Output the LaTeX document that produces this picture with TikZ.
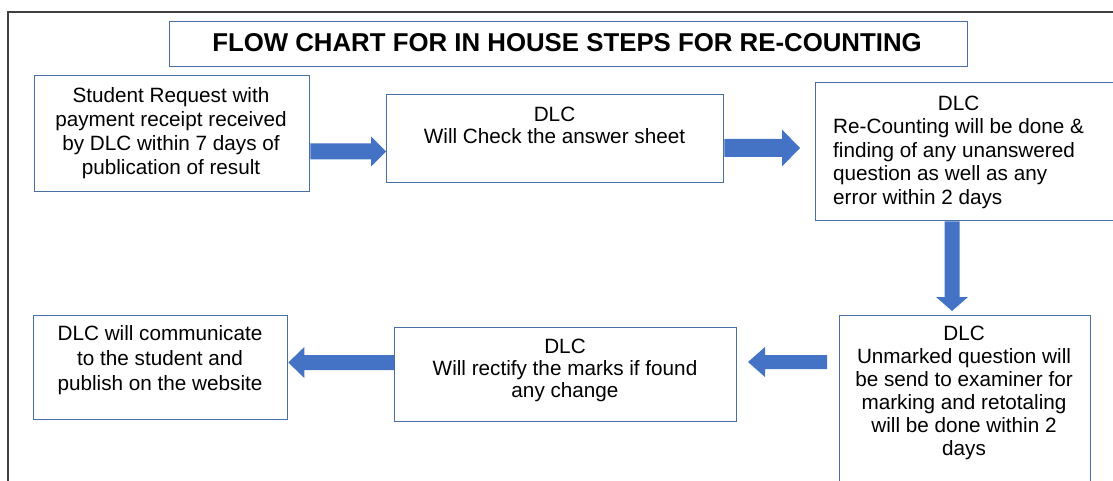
\documentclass[tikz,border=0pt]{standalone}
\usepackage{fontspec}
\setmainfont{Liberation Sans}
\usetikzlibrary{calc}
\definecolor{boxline}{HTML}{4A6FA5}
\definecolor{arrowfill}{HTML}{4472C4}
\definecolor{frameline}{HTML}{404040}
\begin{document}
\begin{tikzpicture}[x=1pt,y=-1pt,
  box/.style={draw=boxline, line width=1.3pt, fill=white, inner sep=0pt, anchor=north west},
  txt/.style={inner sep=0pt, anchor=north, align=center},
  blockarrow/.style={fill=arrowfill, draw=none}]
\useasboundingbox (0,0) rectangle (1113,481);
\draw[frameline, line width=1.5pt] (8,530) -- (8,12) -- (1140,12);
% boxes
\node[box, minimum width=798pt, minimum height=45pt] (title) at (169,21) {};
\node[box, minimum width=275pt, minimum height=116pt] (b1) at (34,75) {};
\node[box, minimum width=337pt, minimum height=88pt] (b2) at (386,94) {};
\node[box, minimum width=320pt, minimum height=138pt] (b3) at (815,82) {};
\node[box, minimum width=251pt, minimum height=200pt] (b4) at (839,315) {};
\node[box, minimum width=342pt, minimum height=94pt] (b5) at (394,327) {};
\node[box, minimum width=254pt, minimum height=104pt] (b6) at (33,315) {};
% texts
\node[inner sep=0pt, anchor=base, font=\fontsize{25.8}{30}\selectfont\bfseries] (ttitle) at (567,52) {FLOW CHART FOR IN HOUSE STEPS FOR RE-COUNTING};
\node[txt, font=\fontsize{20.7}{24}\selectfont] (t1) at (171,87.5) {Student Request with\\payment receipt received\\by DLC within 7 days of\\publication of result};
\node[txt, font=\fontsize{20.7}{22}\selectfont] (t2) at (554.5,106.5) {DLC\\Will Check the answer sheet};
\node[inner sep=0pt, anchor=north west, font=\fontsize{20.7}{23.5}\selectfont] (t3) at (833,93.5) {\begin{tabular}{@{}l@{}}\multicolumn{1}{@{}c@{}}{DLC}\\Re-Counting will be done \&\\finding of any unanswered\\question as well as any\\error within 2 days\end{tabular}};
\node[txt, font=\fontsize{20.7}{23}\selectfont] (t4) at (964,325.5) {DLC\\Unmarked question will\\be send to examiner for\\marking and retotaling\\will be done within 2\\days};
\node[txt, font=\fontsize{20.7}{22}\selectfont] (t5) at (565,338.5) {DLC\\Will rectify the marks if found\\any change};
\node[txt, font=\fontsize{20.7}{25}\selectfont] (t6) at (160,325.5) {DLC will communicate\\to the student and\\publish on the website};
% arrow end points
\coordinate (a1s) at (b1.east |- 0,151.5);
\coordinate (a1t) at (b2.west |- 0,151.5);
\coordinate (a2s) at (b2.east |- 0,148);
\coordinate (a2t) at (800,148);
\coordinate (a3s) at (952,0 |- b3.south);
\coordinate (a3t) at (952,311);
\coordinate (a4s) at (827,362);
\coordinate (a4t) at (748,362);
\coordinate (a5s) at (b5.west |- 0,362.5);
\coordinate (a5t) at (b6.east |- 0,362.5);
% block arrows
\fill[blockarrow] ($(a1s)+(0,-8)$) -- ($(a1t)+(-15,-8)$) -- ($(a1t)+(-15,-15)$) -- (a1t) -- ($(a1t)+(-15,15)$) -- ($(a1t)+(-15,8)$) -- ($(a1s)+(0,8)$) -- cycle;
\fill[blockarrow] ($(a2s)+(0,-9)$) -- ($(a2t)+(-18,-9)$) -- ($(a2t)+(-18,-18.5)$) -- (a2t) -- ($(a2t)+(-18,18.5)$) -- ($(a2t)+(-18,9)$) -- ($(a2s)+(0,9)$) -- cycle;
\fill[blockarrow] ($(a3s)+(-7.5,0)$) -- ($(a3t)+(-7.5,-14)$) -- ($(a3t)+(-16,-14)$) -- (a3t) -- ($(a3t)+(16,-14)$) -- ($(a3t)+(7.5,-14)$) -- ($(a3s)+(7.5,0)$) -- cycle;
\fill[blockarrow] ($(a4s)+(0,-7)$) -- ($(a4t)+(17,-7)$) -- ($(a4t)+(17,-15)$) -- (a4t) -- ($(a4t)+(17,15)$) -- ($(a4t)+(17,7)$) -- ($(a4s)+(0,7)$) -- cycle;
\fill[blockarrow] ($(a5s)+(0,-7.5)$) -- ($(a5t)+(16,-7.5)$) -- ($(a5t)+(16,-15.5)$) -- (a5t) -- ($(a5t)+(16,15.5)$) -- ($(a5t)+(16,7.5)$) -- ($(a5s)+(0,7.5)$) -- cycle;
\end{tikzpicture}
\end{document}
